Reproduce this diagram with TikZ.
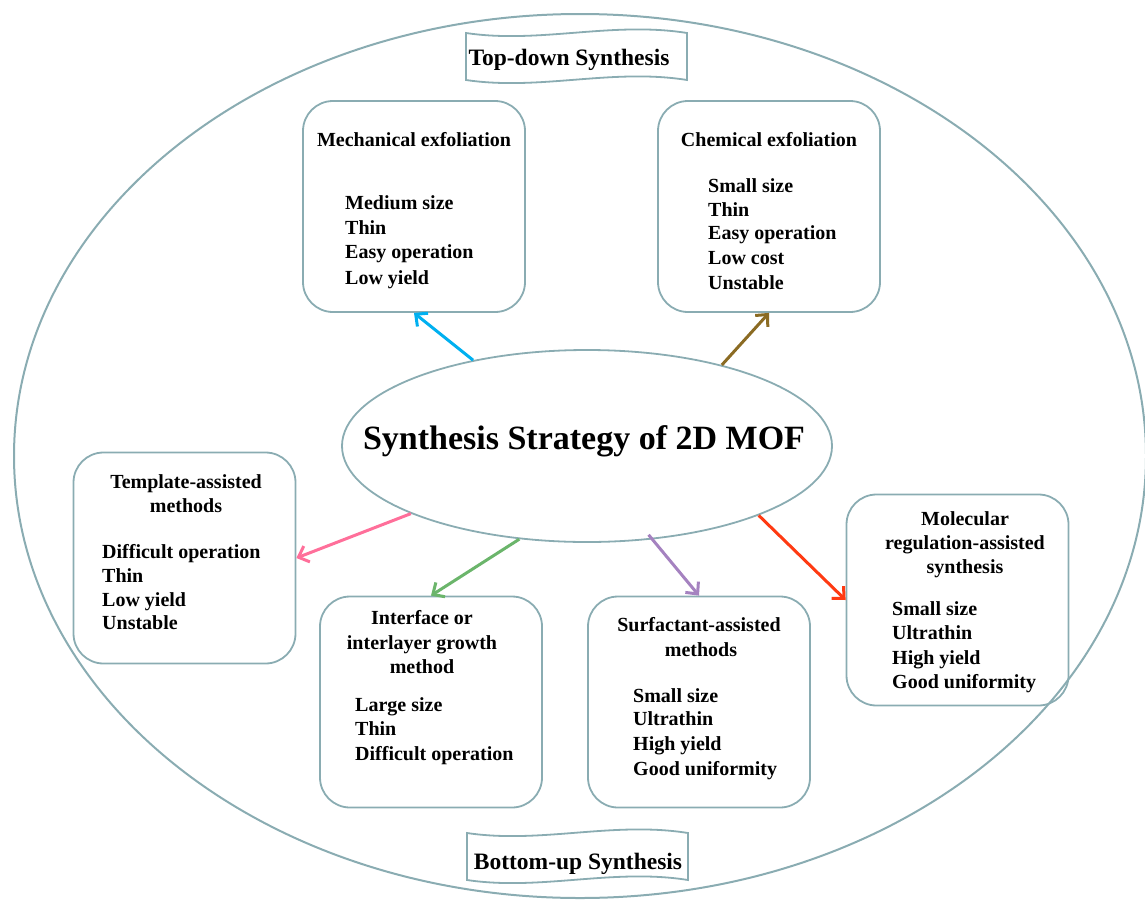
\documentclass[tikz,border=0pt]{standalone}
\usepackage{fontspec}
\setmainfont{Liberation Serif}
\usetikzlibrary{shapes.geometric,arrows.meta}
\definecolor{bord}{RGB}{138,172,178}
\definecolor{acyan}{RGB}{0,176,240}
\definecolor{abrown}{RGB}{139,107,35}
\definecolor{apink}{RGB}{255,111,154}
\definecolor{agreen}{RGB}{107,181,107}
\definecolor{apurple}{RGB}{165,130,192}
\definecolor{ared}{RGB}{255,58,18}
\begin{document}
\begin{tikzpicture}[x=1pt,y=-1pt,
  box/.style={draw=bord,line width=1.8pt,rounded corners=30pt,minimum width=222pt,minimum height=211pt,inner sep=0pt},
  txt/.style={font=\bfseries\fontsize{20}{24}\selectfont,inner sep=0pt,anchor=base},
  itm/.style={txt,anchor=base west},
  ban/.style={font=\bfseries\fontsize{23.5}{28}\selectfont,inner sep=0pt,anchor=base},
  banshape/.style={draw=bord,line width=1.8pt,fill=white},
  arr/.style={line width=3pt,-{Straight Barb[length=9pt,width=17pt]}}]
\useasboundingbox (0,0) rectangle (1145,900);

% outer frame
\draw[bord,line width=2pt] (580,456) ellipse [x radius=566pt, y radius=442pt];

% banners
\draw[banshape] (466,33) .. controls (540,44) and (612,21) .. (687,33) -- (687,80)
  .. controls (612,68) and (540,91) .. (466,80) -- cycle;
\node[ban] (topban) at (569,65) {Top-down Synthesis};
\draw[banshape] (467,833) .. controls (541,844) and (613,821) .. (688,833) -- (688,880)
  .. controls (613,868) and (541,891) .. (467,880) -- cycle;
\node[ban] (botban) at (578,869) {Bottom-up Synthesis};

% central ellipse
\node[draw=bord,line width=1.8pt,ellipse,minimum width=490pt,minimum height=192pt,inner sep=0pt] (main) at (587,446) {};
\node[font=\bfseries\fontsize{34}{40}\selectfont,inner sep=0pt,anchor=base] (title) at (584,449) {Synthesis Strategy of 2D MOF};

% boxes
\node[box] (mech) at (414,206.5) {};
\node[box] (chem) at (769,206.5) {};
\node[box] (tmpl) at (184.5,558) {};
\node[box] (intf) at (431,702) {};
\node[box] (surf) at (699,702) {};
\node[box] (mol) at (957.5,600) {};

% mechanical
\node[txt] (mech-t) at (414,146) {Mechanical exfoliation};
\node[itm] (mech-1) at (345,209) {Medium size};
\node[itm] (mech-2) at (345,234) {Thin};
\node[itm] (mech-3) at (345,258) {Easy operation};
\node[itm] (mech-4) at (345,284) {Low yield};

% chemical
\node[txt] (chem-t) at (769,146) {Chemical exfoliation};
\node[itm] (chem-1) at (708,192) {Small size};
\node[itm] (chem-2) at (708,216) {Thin};
\node[itm] (chem-3) at (708,239) {Easy operation};
\node[itm] (chem-4) at (708,264) {Low cost};
\node[itm] (chem-5) at (708,289) {Unstable};

% template
\node[txt] (tmpl-t1) at (186,488) {Template-assisted};
\node[txt] (tmpl-t2) at (186,512) {methods};
\node[itm] (tmpl-1) at (102,558) {Difficult operation};
\node[itm] (tmpl-2) at (102,582) {Thin};
\node[itm] (tmpl-3) at (102,606) {Low yield};
\node[itm] (tmpl-4) at (102,629) {Unstable};

% interface
\node[txt] (intf-t1) at (422,624) {Interface or};
\node[txt] (intf-t2) at (422,649) {interlayer growth};
\node[txt] (intf-t3) at (422,673) {method};
\node[itm] (intf-1) at (355,711) {Large size};
\node[itm] (intf-2) at (355,735) {Thin};
\node[itm] (intf-3) at (355,760) {Difficult operation};

% surfactant
\node[txt] (surf-t1) at (699,631) {Surfactant-assisted};
\node[txt] (surf-t2) at (701,656) {methods};
\node[itm] (surf-1) at (633,702) {Small size};
\node[itm] (surf-2) at (633,725) {Ultrathin};
\node[itm] (surf-3) at (633,750) {High yield};
\node[itm] (surf-4) at (633,775) {Good uniformity};

% molecular
\node[txt] (mol-t1) at (965,525) {Molecular};
\node[txt] (mol-t2) at (965,549) {regulation-assisted};
\node[txt] (mol-t3) at (965,573) {synthesis};
\node[itm] (mol-1) at (892,615) {Small size};
\node[itm] (mol-2) at (892,639) {Ultrathin};
\node[itm] (mol-3) at (892,664) {High yield};
\node[itm] (mol-4) at (892,688) {Good uniformity};

% arrows
\draw[arr,acyan] (main.143) -- (mech.south);
\draw[arr,abrown] (main.31) -- (chem.south);
\draw[arr,apink] (main.201) -- (tmpl.east);
\draw[arr,agreen] (main.234.5) -- (intf.north);
\draw[arr,apurple,shorten <=-6pt] (main.305.5) -- (surf.north);
\draw[arr,ared] (main.338.8) -- (mol.west);
\end{tikzpicture}
\end{document}
